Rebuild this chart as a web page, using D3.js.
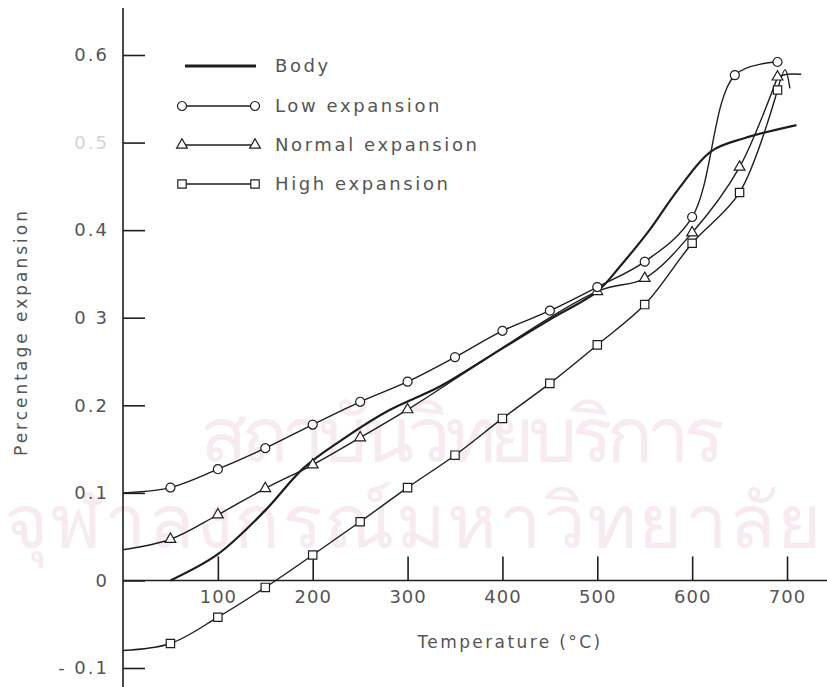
<!DOCTYPE html>
<html><head><meta charset="utf-8">
<script src="https://cdn.jsdelivr.net/npm/d3@7/dist/d3.min.js"></script>
<style>
html,body{margin:0;padding:0;background:#fff;}
svg{display:block;}
text{font-family:"DejaVu Sans","Liberation Sans",sans-serif;}
</style></head>
<body><svg id="c" width="827" height="687"></svg>
<script>
// ---------- data ----------
const xTicks = [100, 200, 300, 400, 500, 600, 700];
const yTicks = [-0.1, 0, 0.1, 0.2, 0.3, 0.4, 0.5, 0.6];
const yTickLabels = ["- 0.1", "0", "0.1", "0.2", "0 3", "0.4", "0.5", "0.6"];
const seriesNames = ["Body", "Low expansion", "Normal expansion", "High expansion"];

const bodyT = [50, 100, 150, 190, 230, 280, 335, 400, 450, 500, 525, 555, 585, 620, 655, 710];
const bodyV = [0, 0.03, 0.08, 0.128, 0.16, 0.194, 0.222, 0.265, 0.298, 0.33, 0.36, 0.40, 0.446, 0.49, 0.505, 0.52];

const lowT = [0, 50, 100, 150, 200, 250, 300, 350, 400, 450, 500, 550, 600, 645, 690];
const lowV = [0.1, 0.106, 0.127, 0.151, 0.178, 0.204, 0.227, 0.255, 0.285, 0.308, 0.335, 0.364, 0.415, 0.577, 0.592];

const normalT = [0, 50, 100, 150, 200, 250, 300, 500, 550, 600, 650, 690];
const normalV = [0.035, 0.047, 0.075, 0.105, 0.132, 0.163, 0.195, 0.33, 0.345, 0.397, 0.472, 0.575];
const normalTailT = [690, 700, 715];
const normalTailV = [0.575, 0.578, 0.578];

const highT = [0, 50, 100, 150, 200, 250, 300, 350, 400, 450, 500, 550, 600, 650, 690];
const highV = [-0.08, -0.072, -0.042, -0.008, 0.029, 0.067, 0.106, 0.143, 0.185, 0.225, 0.269, 0.315, 0.385, 0.443, 0.56];
const highTailT = [690, 698, 703];
const highTailV = [0.56, 0.583, 0.562];

// ---------- setup ----------
const svg = d3.select("#c");
const W = 827, H = 687;
const x = d3.scaleLinear().domain([0, 700]).range([123, 787]);
const y = d3.scaleLinear().domain([-0.1, 0.6]).range([668, 55]);
const ink = "#1e1e1e", txt = "#555";

// faint watermark text
const wm = svg.append("g").attr("fill", "#f8ebef")
  .attr("font-family", "'Noto Sans Thai','Noto Sans','DejaVu Sans',sans-serif");
wm.append("text").attr("x", 200).attr("y", 462).attr("font-size", 78)
  .attr("textLength", 525).text("สถาบันวิทยบริการ");
wm.append("text").attr("x", 4).attr("y", 548).attr("font-size", 76)
  .attr("textLength", 818).text("จุฬาลงกรณ์มหาวิทยาลัย");

// ---------- axes ----------
const yAxis = d3.axisLeft(y).tickValues(yTicks).tickSizeInner(-22).tickSizeOuter(0).tickPadding(14)
  .tickFormat((d, i) => yTickLabels[i]);
const gy = svg.append("g").attr("transform", `translate(${x(0)},0)`).call(yAxis);
gy.select(".domain").remove();
gy.selectAll(".tick line").attr("stroke", ink).attr("stroke-width", 1.6);
gy.selectAll(".tick text").attr("fill", txt).attr("font-size", 18).attr("letter-spacing", 2);
gy.selectAll(".tick").filter(d => d === 0.5).select("text").attr("fill", "#d4d4d4");
svg.append("line").attr("x1", x(0)).attr("x2", x(0)).attr("y1", 8).attr("y2", H)
  .attr("stroke", ink).attr("stroke-width", 1.6);

const xAxis = d3.axisBottom(x).tickValues(xTicks).tickSizeInner(-24).tickSizeOuter(0).tickPadding(10)
  .tickFormat(d3.format("d"));
const gx = svg.append("g").attr("transform", `translate(0,${y(0)})`).call(xAxis);
gx.select(".domain").remove();
gx.selectAll(".tick line").attr("stroke", ink).attr("stroke-width", 1.6);
gx.selectAll(".tick text").attr("fill", txt).attr("font-size", 18).attr("letter-spacing", 1);
svg.append("line").attr("x1", x(0)).attr("x2", W).attr("y1", y(0)).attr("y2", y(0))
  .attr("stroke", ink).attr("stroke-width", 1.6);

svg.append("text").attr("x", 510).attr("y", 648).attr("text-anchor", "middle")
  .attr("fill", txt).attr("font-size", 17).attr("letter-spacing", 2.4).text("Temperature  (°C)");
svg.append("text").attr("transform", "translate(27,332) rotate(-90)").attr("text-anchor", "middle")
  .attr("fill", txt).attr("font-size", 17).attr("letter-spacing", 3).text("Percentage  expansion");

// ---------- series ----------
const line = d3.line().x(d => x(d[0])).y(d => y(d[1])).curve(d3.curveCatmullRom.alpha(0.5));
const zip = (a, b) => a.map((v, i) => [v, b[i]]);

function drawLine(pts, w) {
  svg.append("path").datum(pts).attr("d", line).attr("fill", "none")
    .attr("stroke", ink).attr("stroke-width", w).attr("stroke-linejoin", "round");
}
const sym = {
  circle: d3.symbol().type(d3.symbolCircle).size(64),
  triangle: d3.symbol().type(d3.symbolTriangle).size(50),
  square: d3.symbol().type(d3.symbolSquare).size(70)
};
function drawMarkers(pts, kind) {
  svg.append("g").selectAll("path").data(pts).join("path")
    .attr("transform", d => `translate(${x(d[0])},${y(d[1])})`)
    .attr("d", sym[kind]).attr("fill", "#fff").attr("stroke", ink).attr("stroke-width", 1.2);
}

const body = zip(bodyT, bodyV);
const low = zip(lowT, lowV);
const normal = zip(normalT, normalV);
const high = zip(highT, highV);

drawLine(high, 1.4);
drawLine(zip(highTailT, highTailV), 1.4);
drawLine(normal, 1.4);
drawLine(zip(normalTailT, normalTailV), 1.4);
drawLine(low, 1.4);
drawLine(body, 2.2);
drawMarkers(high.slice(1), "square");
drawMarkers(normal.slice(1), "triangle");
drawMarkers(low.slice(1), "circle");

// ---------- legend ----------
const lg = svg.append("g");
const legY = [66, 106, 145, 184];
const kinds = [null, "circle", "triangle", "square"];
seriesNames.forEach((name, i) => {
  const yy = legY[i];
  if (i === 0) {
    lg.append("line").attr("x1", 185).attr("x2", 256).attr("y1", yy).attr("y2", yy)
      .attr("stroke", ink).attr("stroke-width", 3);
  } else {
    lg.append("line").attr("x1", 182).attr("x2", 255).attr("y1", yy).attr("y2", yy)
      .attr("stroke", ink).attr("stroke-width", 1.4);
    [182, 255].forEach(px => lg.append("path").attr("transform", `translate(${px},${yy})`)
      .attr("d", sym[kinds[i]]).attr("fill", "#fff").attr("stroke", ink).attr("stroke-width", 1.2));
  }
  lg.append("text").attr("x", 275).attr("y", yy + 6).attr("fill", txt)
    .attr("font-size", 18).attr("letter-spacing", 2.6).text(name);
});
</script></body></html>
